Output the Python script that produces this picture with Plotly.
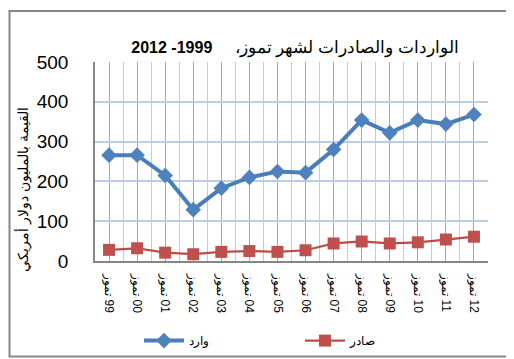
import plotly.graph_objects as go

years = [1999, 2000, 2001, 2002, 2003, 2004, 2005, 2006, 2007, 2008, 2009, 2010, 2011, 2012]
short_labels = ["99", "00", "01", "02", "03", "04", "05", "06", "07", "08", "09", "10", "11", "12"]
month_word = "تموز"
imports_vals = [266, 266, 215, 129, 183, 210, 225, 222, 280, 354, 322, 354, 344, 368]
exports_vals = [28, 32, 21, 17, 23, 25, 23, 27, 44, 49, 44, 47, 54, 61]
imports_name = "وارد"
exports_name = "صادر"
title_ar = "الواردات والصادرات لشهر تموز،"
title_years_visual = "2012 -1999"
y_title = "القيمة بالمليون دولار أمريكي"

tick_text = [month_word + "\u200e " + s for s in short_labels]

FONT = "Liberation Sans, Arial, sans-serif"
W, H = 514, 359
L, R, T, B = 87, 34, 54, 100
pw, ph = W - L - R, H - T - B

fig = go.Figure()
fig.add_trace(go.Scatter(
    x=years, y=imports_vals, name=imports_name, mode="lines+markers",
    line=dict(color="#4a7ebb", width=4),
    marker=dict(symbol="diamond", size=12, color="#4f81bd"),
))
fig.add_trace(go.Scatter(
    x=years, y=exports_vals, name=exports_name, mode="lines+markers",
    line=dict(color="#be4b48", width=2.25),
    marker=dict(symbol="square", size=12, color="#c0504d"),
))

def px_x(p):
    return (p - L) / pw

def px_y(p):
    return (H - B - p) / ph

fig.add_shape(type="rect", xref="paper", yref="paper",
              x0=px_x(1.5), x1=px_x(512.5), y0=px_y(357.5), y1=px_y(1.5),
              line=dict(color="#868686", width=2), fillcolor="rgba(0,0,0,0)", layer="above")

fig.add_annotation(
    text=y_title, textangle=-90, xref="paper", yref="paper",
    x=px_x(14), y=px_y(186), xanchor="center", yanchor="middle",
    showarrow=False, font=dict(size=14, family=FONT, color="black"),
)

title_text = ("<b>" + title_years_visual + "</b>" + "\u00a0" * 5
              + '<span style="font-size:17px">' + title_ar + "\u200f</span>")

fig.update_layout(
    width=W, height=H,
    margin=dict(l=L, r=R, t=T, b=B, pad=0),
    paper_bgcolor="white", plot_bgcolor="white",
    font=dict(family=FONT, color="black"),
    title=dict(
        text=title_text,
        x=287 / W, xanchor="center", y=1 - 39 / H, yanchor="middle",
        font=dict(size=16, family=FONT, color="black"),
    ),
    showlegend=True,
    legend=dict(orientation="h", x=px_x(131), xanchor="left", y=px_y(341), yanchor="middle",
                font=dict(size=12, family=FONT), entrywidth=106, entrywidthmode="pixels",
                itemwidth=40, bgcolor="rgba(0,0,0,0)", itemclick=False),
    xaxis=dict(
        range=[years[0] - 0.5, years[-1] + 0.5],
        tickmode="array", tickvals=years, ticktext=tick_text, tickangle=90,
        tickfont=dict(size=12, family=FONT),
        showgrid=True, gridcolor="#a6a6a6", gridwidth=1,
        minor=dict(tickmode="linear", tick0=years[0] - 0.5, dtick=1,
                   showgrid=True, gridcolor="#b9cde5", gridwidth=1, ticks=""),
        showline=True, linecolor="#868686", linewidth=1.5,
        ticks="", ticklen=0, zeroline=False, fixedrange=True,
        automargin=False, ticklabelstandoff=9,
    ),
    yaxis=dict(
        range=[0, 500], dtick=100, tick0=0,
        tickfont=dict(size=19, family=FONT),
        showgrid=True, gridcolor="#b9cde5", gridwidth=2,
        showline=True, linecolor="#868686", linewidth=1.5,
        ticks="", zeroline=False, automargin=False, ticklabelstandoff=21,
    ),
)

fig.write_html("out.html")
